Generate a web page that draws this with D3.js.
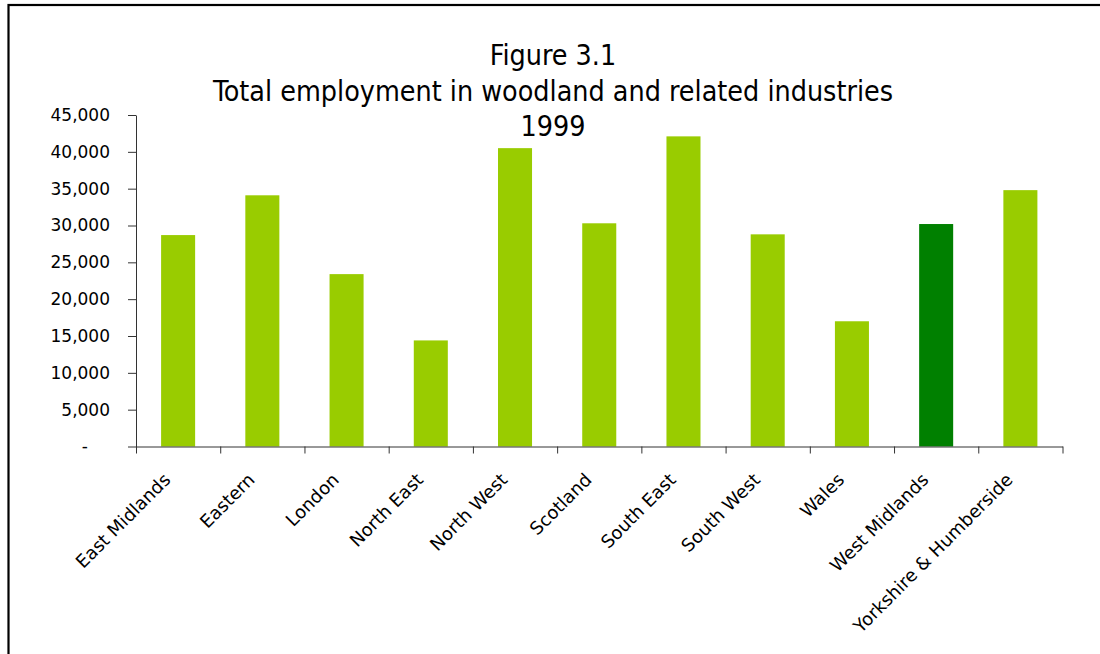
<!DOCTYPE html>
<html>
<head>
<meta charset="utf-8">
<script src="https://cdnjs.cloudflare.com/ajax/libs/d3/7.8.5/d3.min.js"></script>
<style>
  body { margin: 0; background: #fff; }
  svg { display: block; }
  .axis path, .axis line { stroke: #333; }
  .axis text { fill: #000; font-family: "DejaVu Sans", sans-serif; font-size: 17px; }
  .xlabels text { font-size: 18px; }
  .title { font-family: "DejaVu Sans Condensed", "DejaVu Sans", sans-serif; font-size: 28.4px; }
</style>
</head>
<body>
<svg id="chart" width="1100" height="654"></svg>
<script>
// data
const regions = ["East Midlands", "Eastern", "London", "North East", "North West", "Scotland",
                 "South East", "South West", "Wales", "West Midlands", "Yorkshire & Humberside"]
const employment = [28700, 34100, 23400, 14400, 40500, 30300, 42100, 28800, 17000, 30200, 34800]
const highlight = "West Midlands"
const yTicks = [0, 5000, 10000, 15000, 20000, 25000, 30000, 35000, 40000, 45000]
const titleLines = ["Figure 3.1", "Total employment in woodland and related industries", "1999"]

const svg = d3.select("#chart")
const plotLeft = 136, plotRight = 1062.5, plotTop = 115, plotBottom = 446.5

// outer frame (only left and top edges fall inside the picture)
svg.append("rect")
  .attr("x", 8.5).attr("y", 5)
  .attr("width", 1200).attr("height", 800)
  .attr("fill", "none").attr("stroke", "#000").attr("stroke-width", 2.2)

const x = d3.scaleBand()
  .domain(regions)
  .range([plotLeft, plotRight])
  .paddingInner(0.596)
  .paddingOuter(0.298)

const y = d3.scaleLinear()
  .domain([0, 45000])
  .range([plotBottom, plotTop])

// bars
svg.append("g").selectAll("rect")
  .data(regions)
  .join("rect")
  .attr("x", d => x(d))
  .attr("y", (d, i) => y(employment[i]))
  .attr("width", x.bandwidth())
  .attr("height", (d, i) => y(0) - y(employment[i]))
  .attr("fill", d => d === highlight ? "#008000" : "#99cc00")

// y axis
const fmt = d3.format(",")
const yAxis = svg.append("g")
  .attr("class", "axis")
  .attr("transform", `translate(${plotLeft},0)`)
  .call(d3.axisLeft(y).tickValues(yTicks).tickSize(8).tickSizeOuter(0).tickPadding(18)
    .tickFormat(d => d === 0 ? "-" : fmt(d)))
yAxis.selectAll(".tick").filter(d => d === 0).select("text").attr("dx", -22)

// x axis: boundary ticks
const xEdge = d3.scaleLinear().domain([0, regions.length]).range([plotLeft, plotRight])
svg.append("g")
  .attr("class", "axis")
  .attr("transform", `translate(0,${plotBottom})`)
  .call(d3.axisBottom(xEdge).tickValues(d3.range(regions.length + 1)).tickSize(7).tickSizeOuter(0).tickFormat(""))

// x axis: category labels
const xLab = svg.append("g")
  .attr("class", "axis xlabels")
  .attr("transform", `translate(0,${plotBottom})`)
  .call(d3.axisBottom(x).tickSize(0).tickPadding(0))
xLab.select(".domain").remove()
xLab.selectAll("text")
  .attr("text-anchor", "end")
  .attr("dy", "0.35em")
  .attr("transform", "translate(-11,30) rotate(-45)")

// title
svg.append("g").selectAll("text")
  .data(titleLines)
  .join("text")
  .attr("class", "title")
  .attr("x", 553)
  .attr("y", (d, i) => 65 + i * 35.5)
  .attr("text-anchor", "middle")
  .text(d => d)
</script>
</body>
</html>
